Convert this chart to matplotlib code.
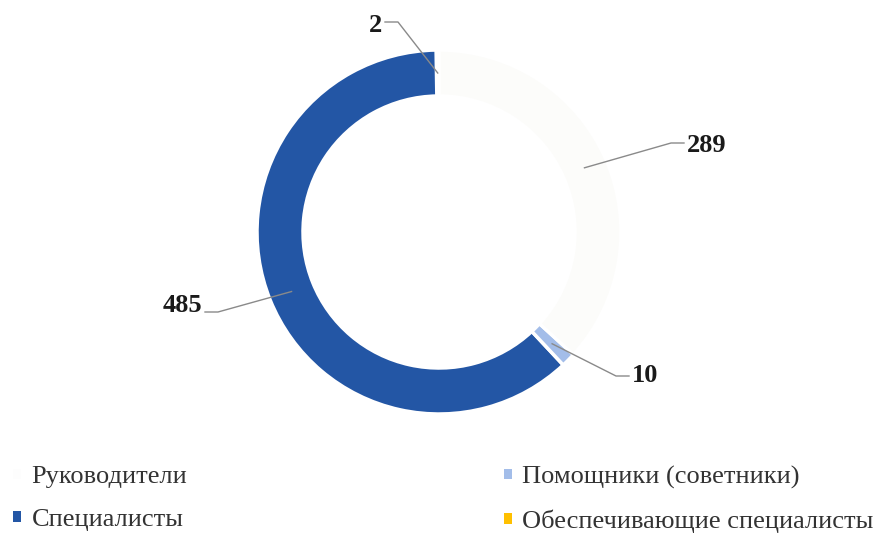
import numpy as np
import matplotlib
matplotlib.use('Agg')
import matplotlib.pyplot as plt
from matplotlib.patches import Patch

# Data
categories = ['Руководители', 'Специалисты', 'Помощники (советники)', 'Обеспечивающие специалисты']
values = [2, 485, 10, 289]
wedge_colors = ['#fcfcfb', '#2356a5', '#a3bde9', '#fcfcfa']
legend_colors = ['#fdfdfd', '#2356a5', '#a3bde9', '#ffc000']

# Where each leader line ends next to its label (layout coords, y up),
# and on which side of that point the label sits (-1 left, +1 right)
label_anchor = [(385, 513), (205, 223), (629, 159), (684, 392)]
label_side = [-1, -1, 1, 1]
label_dy = [-3, 7, 1, -2]

W, H = 878, 535
fig = plt.figure(figsize=(W / 100, H / 100), dpi=100)
ax = fig.add_axes([0, 0, 1, 1])

center = (439, 303)
radius = 182
ring = 46
wedges, _ = ax.pie(values, radius=radius, center=center, startangle=90,
                   counterclock=True, colors=wedge_colors,
                   wedgeprops=dict(width=ring, edgecolor='white', linewidth=2.5))
ax.set_xlim(0, W)
ax.set_ylim(0, H)
ax.set_aspect('equal')
ax.axis('off')

# Labels with leader lines
for w, v, (ax_x, ax_y), side, dy in zip(wedges, values, label_anchor, label_side, label_dy):
    ang = np.deg2rad((w.theta1 + w.theta2) / 2)
    r = radius - ring / 2
    px = center[0] + r * np.cos(ang)
    py = center[1] + r * np.sin(ang)
    elbow = ax_x - side * 13
    ax.plot([ax_x, elbow, px], [ax_y, ax_y, py], color='#8a8a8a', lw=1)
    ax.text(ax_x + side * 3, ax_y + dy, str(v), ha='left' if side > 0 else 'right',
            va='center', fontsize=19, fontweight='bold',
            family='Liberation Serif', color='#1a1a1a')

handles = [Patch(facecolor=c, edgecolor='none') for c in legend_colors]
fig.legend(handles, categories, loc='lower left', bbox_to_anchor=(13 / W, 2 / H),
           ncol=2, frameon=False, borderpad=0, borderaxespad=0,
           handlelength=0.3, handleheight=0.22,
           handletextpad=0.4, columnspacing=12.0, labelspacing=0.78,
           prop={'family': 'Liberation Serif', 'size': 19},
           labelcolor='#333333')

fig.savefig('out.png', dpi=100)
